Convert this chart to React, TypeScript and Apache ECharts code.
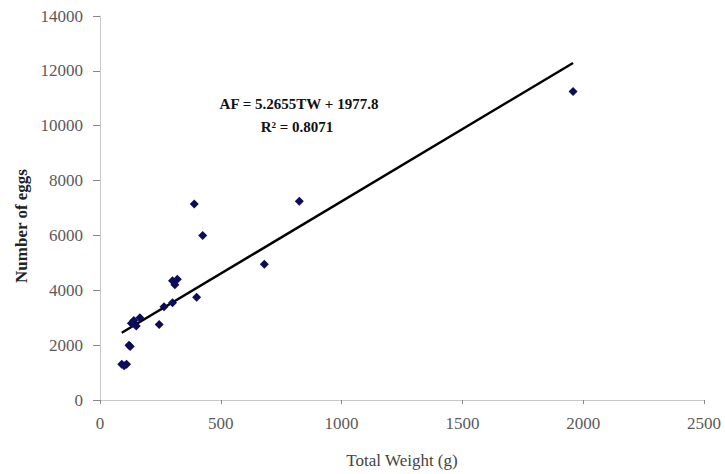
import React, { useEffect, useRef } from "react";
import * as echarts from "echarts";

const weights = [1958, 825, 390, 425, 680, 300, 320, 310, 400, 300, 265, 245, 165, 140, 150, 130, 120, 125, 90, 110, 100];
const eggs = [11250, 7250, 7150, 6000, 4950, 4350, 4400, 4200, 3750, 3550, 3400, 2750, 3000, 2900, 2700, 2800, 2000, 1950, 1300, 1300, 1250];
const slope = 5.2655;
const intercept = 1977.8;
const equationText = "AF = 5.2655TW + 1977.8";
const r2Text = "R² = 0.8071";
const yTitle = "Number of eggs";
const xTitle = "Total Weight (g)";

export default function App() {
  const ref = useRef<HTMLDivElement>(null);
  useEffect(() => {
    if (!ref.current) return;
    const chart = echarts.init(ref.current, null, { renderer: "svg" });
    const pts = weights.map((w, i) => [w, eggs[i]]);
    const xMin = Math.min(...weights);
    const xMax = Math.max(...weights);
    const trend = [
      [xMin, slope * xMin + intercept],
      [xMax, slope * xMax + intercept],
    ];
    const font = "'Liberation Serif', 'Times New Roman', serif";
    chart.setOption({
      animation: false,
      backgroundColor: "#ffffff",
      grid: { left: 100, right: 21, top: 16, bottom: 74 },
      xAxis: {
        type: "value",
        min: 0,
        max: 2500,
        interval: 500,
        name: xTitle,
        nameLocation: "middle",
        nameGap: 52,
        nameTextStyle: { fontFamily: font, fontSize: 17, color: "#444" },
        axisLine: { show: true, lineStyle: { color: "#c8c8c8", width: 1 } },
        axisTick: { show: true, length: 4, lineStyle: { color: "#888" } },
        axisLabel: { fontFamily: font, fontSize: 17, color: "#5a5a5a", margin: 15, formatter: (v: number) => String(v) },
        splitLine: { show: false },
      },
      yAxis: {
        type: "value",
        min: 0,
        max: 14000,
        interval: 2000,
        axisLine: { show: true, lineStyle: { color: "#c8c8c8", width: 1 } },
        axisTick: { show: true, length: 7, lineStyle: { color: "#888" } },
        axisLabel: { fontFamily: font, fontSize: 17, color: "#5a5a5a", margin: 17, formatter: (v: number) => String(v) },
        splitLine: { show: false },
      },
      graphic: [
        {
          type: "text",
          x: 21,
          y: 226,
          rotation: Math.PI / 2,
          style: {
            text: yTitle,
            font: `bold 17px ${font}`,
            fill: "#222",
            textAlign: "center",
            textVerticalAlign: "middle",
          },
        },
        {
          type: "text",
          x: 299,
          y: 104,
          style: {
            text: equationText,
            font: `bold 15px ${font}`,
            fill: "#111",
            textAlign: "center",
            textVerticalAlign: "middle",
          },
        },
        {
          type: "text",
          x: 297,
          y: 127,
          style: {
            text: r2Text,
            font: `bold 15px ${font}`,
            fill: "#111",
            textAlign: "center",
            textVerticalAlign: "middle",
          },
        },
      ],
      series: [
        {
          type: "line",
          data: trend,
          showSymbol: false,
          symbol: "none",
          lineStyle: { color: "#000", width: 2.5 },
          z: 2,
        },
        {
          type: "scatter",
          data: pts,
          symbol: "diamond",
          symbolSize: 9,
          itemStyle: { color: "#0c0c5a", opacity: 1 },
          z: 3,
        },
      ],
    });
    return () => chart.dispose();
  }, []);
  return <div ref={ref} style={{ width: 725, height: 474, position: "fixed", left: 0, top: 0 }} />;
}
